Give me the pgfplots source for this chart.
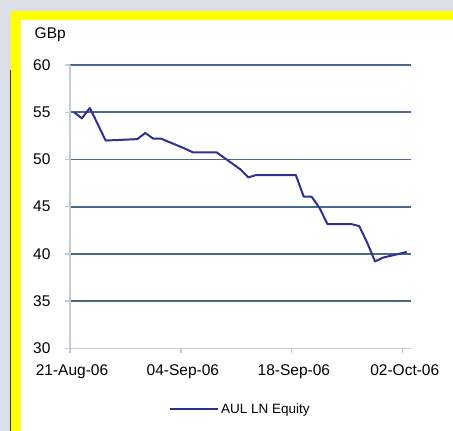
\documentclass[border=0pt]{standalone}
\usepackage{pgfplots}
\pgfplotsset{compat=1.18}
\usepackage{pgfplotstable}
\usepackage{fontspec}
\setmainfont{Liberation Sans}
\definecolor{bggray}{RGB}{217,222,231}
\definecolor{frameyellow}{RGB}{255,255,0}
\definecolor{edgeblue}{RGB}{40,50,160}
\definecolor{gridblue}{RGB}{74,104,136}
\definecolor{axisgray}{RGB}{196,203,212}
\definecolor{seriesblue}{RGB}{46,49,146}
% day 0 = 21-Aug-06 (business days only)
\pgfplotstableread{
day value
0 55.00
1 54.35
2 55.45
3 53.75
4 52.00
8 52.15
9 52.80
10 52.20
11 52.20
14 51.15
15 50.75
16 50.75
17 50.75
18 50.75
21 48.95
22 48.10
23 48.35
24 48.35
25 48.35
28 48.35
29 46.05
30 46.05
31 44.85
32 43.15
35 43.15
36 42.95
37 41.20
38 39.20
39 39.60
42 40.20
}\aul
\begin{document}
\begin{tikzpicture}[x=1pt,y=1pt]
\useasboundingbox (0,0) rectangle (453,431);
\fill[bggray] (0,0) rectangle (453,431);
\fill[white] (11,0) rectangle (453,420);
\fill[frameyellow] (11,0) rectangle (21,420);
\fill[frameyellow] (11,411) rectangle (453,420);
\draw[edgeblue, line width=0.8pt] (10.6,0) -- (10.6,361);
\begin{axis}[
  at={(70pt,82.7pt)}, anchor=south west,
  scale only axis, width=340.7pt, height=283.3pt,
  xmin=0, xmax=43, ymin=30, ymax=60,
  axis x line*=bottom, axis y line*=left,
  axis line style={draw=axisgray, line width=1.3pt, -},
  tick style={draw=axisgray, line width=1.3pt},
  tick align=outside, major tick length=5pt,
  xtick={0,14,28,42},
  xticklabels={21-Aug-06,04-Sep-06,18-Sep-06,02-Oct-06},
  ytick={35,40,...,60},
  extra y ticks={30}, extra y tick style={grid=none},
  ymajorgrids, grid style={draw=gridblue, line width=1.8pt},
  /pgf/number format/assume math mode=true,
  ticklabel style={font=\fontsize{15.5}{18}\selectfont, text=black},
  yticklabel style={xshift=-11pt},
  xticklabel style={yshift=-8pt, xshift=2pt},
  legend style={draw=none, fill=none, at={(0.5,-0.2143)}, anchor=center,
    font=\fontsize{13.5}{16}\selectfont},
  legend image code/.code={\draw[#1] (0pt,0pt) -- (48pt,0pt);},
  clip=false,
]
\addplot[seriesblue, line width=2pt, line join=round] table[x expr=\thisrow{day}+0.5, y=value] {\aul};
\addlegendentry{AUL LN Equity}
\end{axis}
\node[anchor=west, font=\fontsize{15.5}{18}\selectfont, inner sep=0pt] at (34.5,396) {GBp};
\end{tikzpicture}
\end{document}
